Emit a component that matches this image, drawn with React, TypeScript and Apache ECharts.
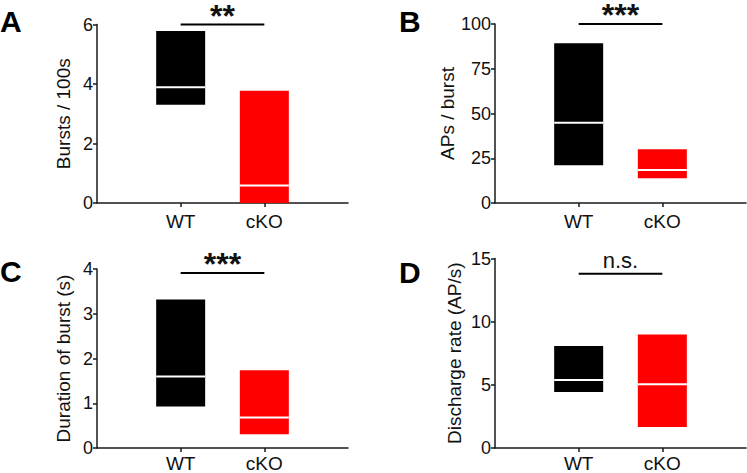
import React, { useEffect, useRef } from "react";
import * as echarts from "echarts";

const categories = ["WT", "cKO"];
const barColors = ["#000000", "#ff0000"];

const panelLetters = ["A", "B", "C", "D"];
const axisNames = ["Bursts / 100s", "APs / burst", "Duration of burst (s)", "Discharge rate (AP/s)"];

// Panel A: Bursts / 100s
const burstsMin = [3.3, 0];
const burstsMedian = [3.89, 0.59];
const burstsMax = [5.78, 3.77];
// Panel B: APs / burst
const apsMin = [21.1, 13.8];
const apsMedian = [44.8, 18.5];
const apsMax = [89.2, 30.0];
// Panel C: Duration of burst (s)
const durationMin = [0.93, 0.31];
const durationMedian = [1.6, 0.68];
const durationMax = [3.32, 1.74];
// Panel D: Discharge rate (AP/s)
const rateMin = [4.44, 1.66];
const rateMedian = [5.39, 5.04];
const rateMax = [8.08, 8.98];

const yMins = [0, 0, 0, 0];
const yMaxs = [6, 100, 4, 15];
const yIntervals = [2, 25, 1, 5];

const sigLabels = ["**", "***", "***", "n.s."];
const sigLevels = [6.0, 100, 3.91, 13.8];

const FONT = "Liberation Sans";

export default function App() {
  const ref = useRef<HTMLDivElement>(null);

  useEffect(() => {
    document.body.style.margin = "0";
    const chart = echarts.init(ref.current!, null, { renderer: "svg" });

    const mins = [burstsMin, apsMin, durationMin, rateMin];
    const meds = [burstsMedian, apsMedian, durationMedian, rateMedian];
    const maxs = [burstsMax, apsMax, durationMax, rateMax];

    const grids = [
      { left: 97, top: 24.5, width: 251, height: 178.5, outerBoundsMode: "none", containLabel: false },
      { left: 495, top: 24, width: 251, height: 179, outerBoundsMode: "none", containLabel: false },
      { left: 97, top: 269, width: 251, height: 179, outerBoundsMode: "none", containLabel: false },
      { left: 495, top: 258.5, width: 251, height: 189.5, outerBoundsMode: "none", containLabel: false },
    ];
    const nameGaps = [24, 31, 24, 31];
    const labelMargins = [10, 10, 7, 7];
    const letterPos = [
      [0, 21],
      [399, 21],
      [0, 271],
      [399, 272],
    ];

    const xAxisData = ["", ...categories, ""];

    const xAxes = grids.map((_, i) => ({
      type: "category",
      gridIndex: i,
      data: xAxisData,
      boundaryGap: false,
      axisLine: { lineStyle: { color: "#1a1a1a", width: 1.5 } },
      axisTick: {
        interval: (idx: number) => idx === 1 || idx === 2,
        length: 4,
        lineStyle: { color: "#1a1a1a", width: 1.5 },
      },
      axisLabel: {
        interval: 0,
        margin: labelMargins[i],
        color: "#111",
        fontSize: 19,
        lineHeight: 17,
        fontFamily: FONT,
      },
      splitLine: { show: false },
    }));

    const yAxes = grids.map((_, i) => ({
      type: "value",
      gridIndex: i,
      min: yMins[i],
      max: yMaxs[i],
      interval: yIntervals[i],
      name: axisNames[i],
      nameLocation: "middle",
      nameGap: nameGaps[i],
      nameTextStyle: { color: "#111", fontSize: 19, fontFamily: FONT },
      axisLine: { show: true, lineStyle: { color: "#1a1a1a", width: 1.5 } },
      axisTick: { show: true, length: 4, lineStyle: { color: "#1a1a1a", width: 1.5 } },
      axisLabel: { margin: 4, color: "#111", fontSize: 18, fontFamily: FONT },
      splitLine: { show: false },
    }));

    const series: any[] = [];
    grids.forEach((_, i) => {
      const boxData = categories.map((_, c) => [c + 1, mins[i][c], meds[i][c], maxs[i][c]]);
      series.push({
        type: "custom",
        xAxisIndex: i,
        yAxisIndex: i,
        data: boxData,
        encode: { x: 0, y: [1, 2, 3] },
        renderItem: (params: any, api: any) => {
          const x = api.value(0);
          const pLo = api.coord([x, api.value(1)]);
          const pMed = api.coord([x, api.value(2)]);
          const pHi = api.coord([x, api.value(3)]);
          const w = 49;
          return {
            type: "group",
            children: [
              {
                type: "rect",
                shape: { x: pHi[0] - w / 2, y: pHi[1], width: w, height: pLo[1] - pHi[1] },
                style: { fill: barColors[params.dataIndex] },
              },
              {
                type: "line",
                shape: { x1: pMed[0] - w / 2, y1: pMed[1], x2: pMed[0] + w / 2, y2: pMed[1] },
                style: { stroke: "#ffffff", lineWidth: 2 },
              },
            ],
          };
        },
      });
      const isNs = sigLabels[i] === "n.s.";
      series.push({
        type: "custom",
        xAxisIndex: i,
        yAxisIndex: i,
        data: [[1, 2, sigLevels[i]]],
        encode: { x: [0, 1], y: 2 },
        renderItem: (_p: any, api: any) => {
          const p1 = api.coord([api.value(0), api.value(2)]);
          const p2 = api.coord([api.value(1), api.value(2)]);
          return {
            type: "group",
            children: [
              {
                type: "line",
                shape: { x1: p1[0], y1: p1[1], x2: p2[0], y2: p2[1] },
                style: { stroke: "#000", lineWidth: 2 },
              },
              {
                type: "text",
                x: (p1[0] + p2[0]) / 2,
                y: isNs ? p1[1] - 13.5 : p1[1] - 8.8,
                style: {
                  text: sigLabels[i],
                  fill: "#111",
                  fontSize: isNs ? 22 : 32,
                  lineHeight: isNs ? 22 : 16,
                  fontWeight: isNs ? "normal" : "bold",
                  fontFamily: FONT,
                  align: "center",
                  verticalAlign: "middle",
                },
              },
            ],
          };
        },
      });
    });

    const graphic = panelLetters.map((t, i) => ({
      type: "text",
      left: letterPos[i][0],
      top: letterPos[i][1] - 15,
      style: {
        text: t,
        fill: "#000",
        fontSize: 30,
        fontWeight: "bold",
        fontFamily: FONT,
      },
    }));

    chart.setOption({
      animation: false,
      backgroundColor: "#ffffff",
      grid: grids,
      xAxis: xAxes,
      yAxis: yAxes,
      series,
      graphic,
    });

    return () => chart.dispose();
  }, []);

  return (
    <div
      ref={ref}
      style={{ position: "fixed", left: 0, top: 0, width: 747, height: 473 }}
    />
  );
}
